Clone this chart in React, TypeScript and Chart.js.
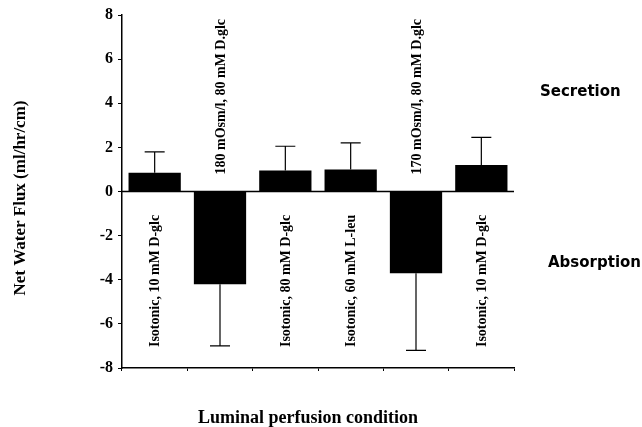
import React, { useEffect, useRef } from "react";
import { Chart, registerables } from "chart.js";

Chart.register(...registerables);

const categories = [
  "Isotonic, 10 mM D-glc",
  "180 mOsm/l, 80 mM D.glc",
  "Isotonic, 80 mM D-glc",
  "Isotonic, 60 mM L-leu",
  "170 mOsm/l, 80 mM D.glc",
  "Isotonic, 10 mM D-glc",
];
const fluxValues = [0.85, -4.2, 0.95, 1.0, -3.7, 1.2];
const fluxErrors = [0.95, 2.8, 1.1, 1.2, 3.5, 1.25];
const yTicks = [-8, -6, -4, -2, 0, 2, 4, 6, 8];
const yTitle = "Net Water Flux (ml/hr/cm)";
const xTitle = "Luminal perfusion condition";
const upperNote = "Secretion";
const lowerNote = "Absorption";

const SERIF = "'Liberation Serif', 'Times New Roman', serif";
const SANS = "'DejaVu Sans', 'Liberation Sans', sans-serif";

const overlay = {
  id: "overlay",
  afterDatasetsDraw(chart: any) {
    const { ctx, chartArea, scales } = chart;
    const y = scales.y;
    const meta = chart.getDatasetMeta(0);
    ctx.save();
    // zero line
    const y0 = y.getPixelForValue(0);
    ctx.strokeStyle = "#000";
    ctx.lineWidth = 1.6;
    ctx.beginPath();
    ctx.moveTo(chartArea.left, y0);
    ctx.lineTo(chartArea.right, y0);
    ctx.stroke();
    // error bars
    ctx.lineWidth = 1.2;
    meta.data.forEach((bar: any, i: number) => {
      const v = fluxValues[i];
      const e = fluxErrors[i];
      const end = v >= 0 ? v + e : v - e;
      const yv = y.getPixelForValue(v);
      const ye = y.getPixelForValue(end);
      ctx.beginPath();
      ctx.moveTo(bar.x, yv);
      ctx.lineTo(bar.x, ye);
      ctx.moveTo(bar.x - 10, ye);
      ctx.lineTo(bar.x + 10, ye);
      ctx.stroke();
    });
    // rotated category labels
    ctx.fillStyle = "#000";
    ctx.font = `bold 14px ${SERIF}`;
    ctx.textAlign = "left";
    ctx.textBaseline = "middle";
    meta.data.forEach((bar: any, i: number) => {
      const v = fluxValues[i];
      const startY = v >= 0 ? y.getPixelForValue(-7.05) : y0 - 17;
      ctx.save();
      ctx.translate(bar.x + 1, startY);
      ctx.rotate(-Math.PI / 2);
      ctx.fillText(categories[i], 0, 0);
      ctx.restore();
    });
    // y title
    ctx.save();
    ctx.translate(21, 198);
    ctx.rotate(-Math.PI / 2);
    ctx.textAlign = "center";
    ctx.font = `bold 17px ${SERIF}`;
    ctx.fillText(yTitle, 0, 0);
    ctx.restore();
    // x title
    ctx.textAlign = "center";
    ctx.font = `bold 18px ${SERIF}`;
    ctx.fillText(xTitle, 308, 418);
    // side notes
    ctx.textAlign = "left";
    ctx.font = `bold 15px ${SANS}`;
    ctx.fillText(upperNote, 540, 92);
    ctx.fillText(lowerNote, 548, 263);
    ctx.restore();
  },
};

export default function App() {
  const ref = useRef<HTMLCanvasElement>(null);
  useEffect(() => {
    document.body.style.margin = "0";
    const chart = new Chart(ref.current!, {
      type: "bar",
      data: {
        labels: categories,
        datasets: [
          {
            data: fluxValues,
            backgroundColor: "#000",
            borderWidth: 0,
            barPercentage: 0.8,
            categoryPercentage: 1,
          },
        ],
      },
      options: {
        animation: false,
        responsive: false,
        maintainAspectRatio: false,
        layout: { padding: { top: 15, right: 128, left: 0, bottom: 0 } },
        plugins: { legend: { display: false }, tooltip: { enabled: false } },
        scales: {
          x: {
            ticks: { display: false },
            grid: { drawOnChartArea: false, drawTicks: true, tickLength: 3, color: "#000", lineWidth: 1 },
            border: { display: true, color: "#000", width: 1.5 },
            afterFit: (s: any) => {
              s.height = 59;
            },
          },
          y: {
            min: -8,
            max: 8,
            afterBuildTicks: (s: any) => {
              s.ticks = yTicks.map((v) => ({ value: v }));
            },
            ticks: {
              color: "#000",
              font: { family: SERIF, size: 16, weight: "bold" },
              padding: 5,
            },
            grid: { drawOnChartArea: false, drawTicks: true, tickLength: 4, color: "#000", lineWidth: 1 },
            border: { display: true, color: "#000", width: 1.5 },
            afterFit: (s: any) => {
              s.width = 122;
            },
          },
        },
      },
      plugins: [overlay],
    });
    return () => chart.destroy();
  }, []);
  return <canvas ref={ref} width={642} height={427} style={{ display: "block" }} />;
}
